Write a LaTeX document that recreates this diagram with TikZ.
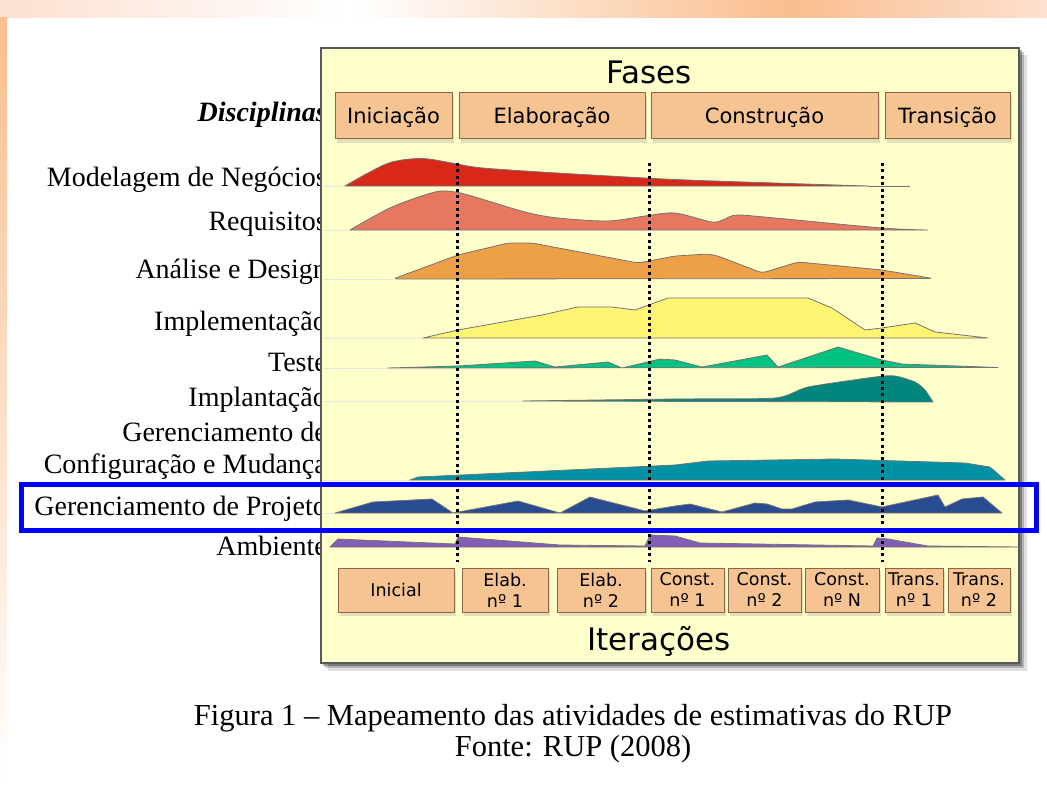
\documentclass[tikz,border=0pt]{standalone}
\usepackage{fontspec}
\setmainfont{Liberation Serif}
\newfontfamily\verd{DejaVu Sans}
\usetikzlibrary{shadows}

\definecolor{painel}{RGB}{255,255,204}
\definecolor{caixa}{RGB}{246,196,146}
\definecolor{borda}{RGB}{140,100,70}
\definecolor{laranja}{RGB}{249,190,142}
\definecolor{pessego}{RGB}{253,224,208}
\definecolor{destaque}{RGB}{0,0,255}
\definecolor{cNeg}{RGB}{215,40,25}
\definecolor{cReq}{RGB}{230,120,95}
\definecolor{cAna}{RGB}{237,160,70}
\definecolor{cImp}{RGB}{255,245,115}
\definecolor{cTes}{RGB}{0,195,130}
\definecolor{cImt}{RGB}{0,135,125}
\definecolor{cCfg}{RGB}{0,145,165}
\definecolor{cPrj}{RGB}{40,75,145}
\definecolor{cAmb}{RGB}{130,95,180}

\tikzset{
  disc/.style={anchor=base east, inner sep=0pt, font=\fontsize{28}{32}\selectfont},
  caixabase/.style={draw=borda, fill=caixa, line width=1pt, inner sep=0pt, text=black,
    drop shadow={shadow xshift=2pt, shadow yshift=-4pt, opacity=0.25}},
  fase/.style={caixabase, minimum height=46pt, text height=15pt, text depth=0pt,
    font=\verd\fontsize{21}{25}\selectfont},
  iter/.style={caixabase, minimum height=44pt, align=center,
    font=\verd\fontsize{17.5}{21}\selectfont},
  titulo/.style={anchor=base, font=\verd\fontsize{31}{36}\selectfont},
  curva/.style={draw=black!55, line width=0.8pt, line join=round},
  base/.style={black!10, line width=1pt},
  divisao/.style={line width=3pt, dash pattern=on 3pt off 3.4pt}
}

\begin{document}
\begin{tikzpicture}[x=1pt, y=-1pt]
\useasboundingbox (0,0) rectangle (1047,789);

% Fundo
\shade[left color=pessego, right color=white] (0,0) rectangle (350,18);
\shade[left color=white, right color=laranja] (350,0) rectangle (790,18);
\shade[left color=laranja, right color=pessego] (790,0) rectangle (1047,18);
\shade[top color=laranja, bottom color=white] (0,18) rectangle (7,789);

% Disciplinas
\node[disc, font=\fontsize{28}{32}\selectfont\bfseries\itshape] (disc) at (327,122) {Disciplinas};
\node[disc] (lbNeg) at (327,186) {Modelagem de Negócios};
\node[disc] (lbReq) at (327,230) {Requisitos};
\node[disc] (lbAna) at (327,278) {Análise e Design};
\node[disc] (lbImp) at (327,330) {Implementação};
\node[disc] (lbTes) at (327,371) {Teste};
\node[disc] (lbImt) at (327,406) {Implantação};
\node[disc] (lbGer) at (327,441) {Gerenciamento de};
\node[disc] (lbCfg) at (327,473) {Configuração e Mudança};
\node[disc] (lbPrj) at (327,515) {Gerenciamento de Projeto};
\node[disc] (lbAmb) at (327,555) {Ambiente};

% Painel
\fill[black, opacity=0.12] (328,55) rectangle (1027,671);
\fill[black, opacity=0.2] (325,52) rectangle (1024,668);
\fill[black, opacity=0.3] (323,50) rectangle (1022,666);
\filldraw[draw=black!65, fill=painel, line width=2pt] (321,48) rectangle (1019,663);

% Linhas de base
\foreach \yb/\xs in {186/345, 230/350, 279/393, 338/423, 368/388, 401/523, 480/410, 513/335}
  \draw[base] (323,\yb) -- (\xs,\yb);

% Curvas
\filldraw[curva, fill=cNeg] plot[smooth, tension=0.55] coordinates {(345,186) (368,173) (392,162)
  (422,158.5) (452,163) (478,167.5) (525,171) (592,175) (675,179.5) (775,183) (868,186)} -- cycle;
\draw[curva] (868,186) -- (910,186);

\filldraw[curva, fill=cReq] plot[smooth, tension=0.5] coordinates {(350,230) (392,207) (435,192)
  (455,192) (475,197) (525,212) (558,218) (608,221) (645,216) (675,213) (712,222) (725,219)
  (737,215) (775,218) (882,228) (928,230)} -- cycle;

\filldraw[curva, fill=cAna, rounded corners=4pt] (393,279) -- (458,255) -- (508,243) -- (532,243)
  -- (638,263) -- (675,256) -- (708,254) -- (718,256) -- (762,273) -- (798,262) -- (882,270)
  -- (933,278.5) -- cycle;

\filldraw[curva, fill=cImp] (423,338) -- (458,330) -- (542,315) -- (578,307) -- (612,307)
  -- (635,310) -- (668,298) -- (808,298) -- (832,308) -- (865,330) -- (882,328) -- (915,323)
  -- (935,332) -- (988,338) -- cycle;

\filldraw[curva, fill=cTes] (388,368) -- (458,366) -- (535,361) -- (555,367) -- (608,362)
  -- (622,368) -- (660,359) -- (675,360) -- (702,367) -- (767,355) -- (778,367) -- (838,347)
  -- (882,360) -- (902,364) -- (998,367.5) -- cycle;

\filldraw[curva, fill=cImt] plot[smooth, tension=0.4] coordinates {(523,401) (675,399) (775,398)
  (808,387) (875,377) (895,376) (915,382) (925,390) (933,402)} -- cycle;

\filldraw[curva, fill=cCfg] (410,480) -- (418,477) -- (675,465) -- (708,461) -- (835,459)
  -- (965,463) -- (990,467) -- (1005,480) -- cycle;

\filldraw[curva, fill=cPrj] (335,513) -- (373,502) -- (432,499) -- (453,513) -- (518,501)
  -- (560,513) -- (590,497) -- (645,511) -- (675,506) -- (690,504) -- (722,512) -- (755,503)
  -- (767,504) -- (782,509) -- (792,509) -- (815,502) -- (848,500) -- (882,507) -- (938,495)
  -- (945,507) -- (962,499) -- (983,497) -- (1002,513) -- cycle;

\filldraw[curva, fill=cAmb] (330,547) -- (338,539) -- (455,544) -- (458,537) -- (560,545)
  -- (645,546) -- (650,535) -- (675,536) -- (700,543) -- (873,546) -- (877,538) -- (888,539)
  -- (928,546) -- (1020,547) -- cycle;

% Divisoes das fases
\foreach \xd in {457, 649, 882}
  \draw[divisao] (\xd,163) -- (\xd,562);

% Fases
\node[titulo] (fases) at (649,84) {Fases};
\node[fase, minimum width=117pt] (inic) at (393.5,116) {Iniciação};
\node[fase, minimum width=186pt] (elab) at (552,116) {Elaboração};
\node[fase, minimum width=227pt] (cons) at (764.5,116) {Construção};
\node[fase, minimum width=125pt] (tran) at (947.5,116) {Transição};

% Iteracoes
\node[iter, minimum width=116pt] (it1) at (396,590) {Inicial};
\node[iter, minimum width=86pt] (it2) at (505,590) {Elab.\\nº 1};
\node[iter, minimum width=88pt] (it3) at (601,590) {Elab.\\nº 2};
\node[iter, minimum width=73pt] (it4) at (687.5,590) {Const.\\nº 1};
\node[iter, minimum width=73pt] (it5) at (764.5,590) {Const.\\nº 2};
\node[iter, minimum width=74pt] (it6) at (842,590) {Const.\\nº N};
\node[iter, minimum width=58pt] (it7) at (914,590) {Trans.\\nº 1};
\node[iter, minimum width=62pt] (it8) at (979,590) {Trans.\\nº 2};
\node[titulo] (iteracoes) at (659,650) {Iterações};

% Destaque
\draw[destaque, line width=5pt] (21,484) rectangle (1036,530);

% Legenda
\node[anchor=base, font=\fontsize{30.5}{34}\selectfont] (legenda) at (573,725)
  {Figura 1 – Mapeamento das atividades de estimativas do RUP};
\node[anchor=base, font=\fontsize{30.5}{34}\selectfont] (fonte) at (573,756) {Fonte: RUP (2008)};
\end{tikzpicture}
\end{document}
